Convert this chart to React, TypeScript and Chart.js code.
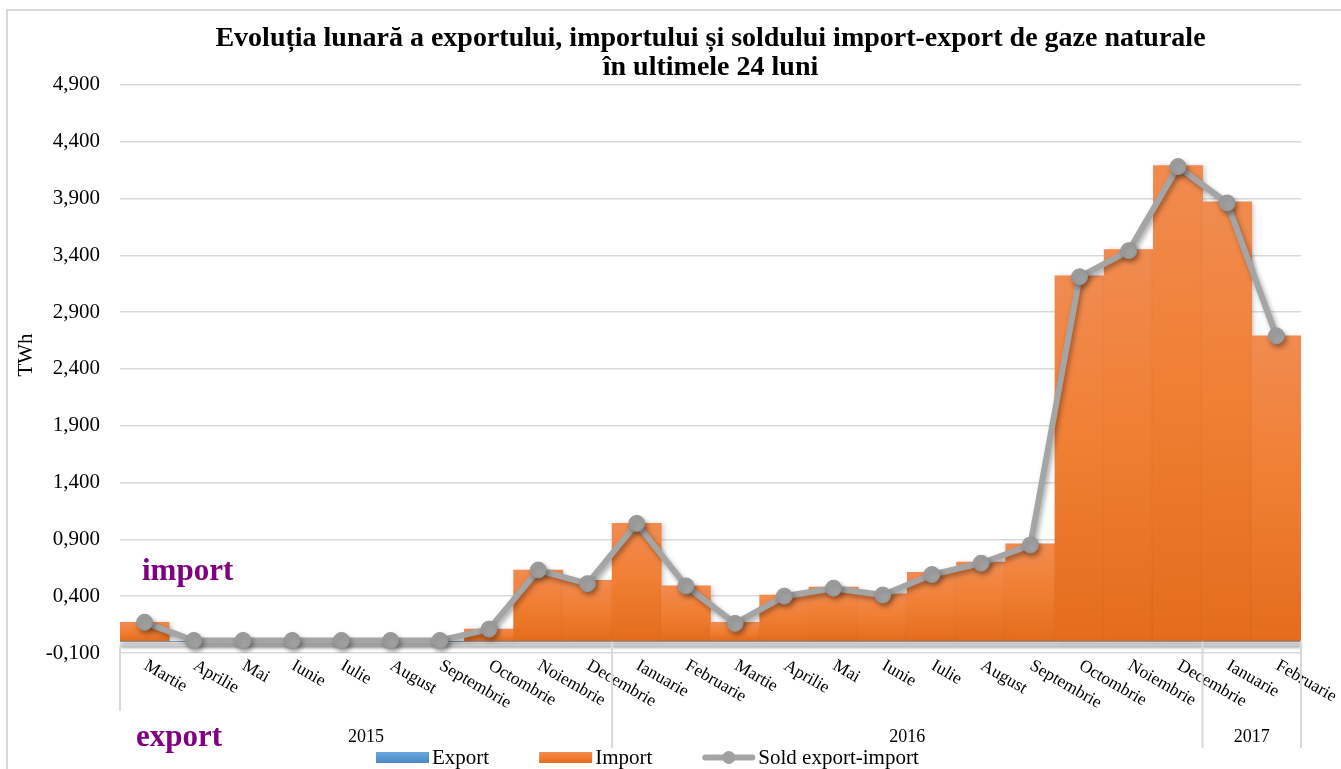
import React, { useEffect, useRef } from 'react';
import { Chart, registerables } from 'chart.js';

Chart.register(...registerables);

const TITLE_LINES = [
  'Evoluția lunară a exportului, importului și soldului import-export de gaze naturale',
  'în ultimele 24 luni',
];
const MONTHS = [
  'Martie', 'Aprilie', 'Mai', 'Iunie', 'Iulie', 'August', 'Septembrie', 'Octombrie', 'Noiembrie', 'Decembrie',
  'Ianuarie', 'Februarie', 'Martie', 'Aprilie', 'Mai', 'Iunie', 'Iulie', 'August', 'Septembrie', 'Octombrie',
  'Noiembrie', 'Decembrie', 'Ianuarie', 'Februarie',
];
const YEARS = ['2015', '2016', '2017'];
const YEAR_SPANS = [10, 12, 2];
const EXPORT_VALUES = [0, 0, 0, 0, 0, 0, 0, 0, 0, 0, 0, 0, 0, 0, 0, 0, 0, 0, 0, 0, 0, 0, 0, 0];
const IMPORT_VALUES = [
  0.17, 0, 0, 0, 0, 0, 0, 0.11, 0.63, 0.54, 1.04, 0.49, 0.17, 0.41, 0.48, 0.42, 0.61, 0.7, 0.86, 3.22, 3.45, 4.19,
  3.87, 2.69,
];
const SOLD_VALUES = [
  0.17, 0.01, 0.01, 0.01, 0.01, 0.01, 0.01, 0.11, 0.63, 0.51, 1.04, 0.49, 0.16, 0.4, 0.47, 0.41, 0.59, 0.69, 0.85,
  3.21, 3.44, 4.18, 3.86, 2.69,
];
const Y_TICKS = [-0.1, 0.4, 0.9, 1.4, 1.9, 2.4, 2.9, 3.4, 3.9, 4.4, 4.9];
const Y_TITLE = 'TWh';
const SERIES_NAMES = ['Export', 'Import', 'Sold export-import'];
const SIDE_LABELS = ['import', 'export'];

const SERIF = '"Liberation Serif", "Times New Roman", serif';

function orangeGradient(ctx: CanvasRenderingContext2D, top: number, bottom: number) {
  const g = ctx.createLinearGradient(0, top, 0, bottom);
  g.addColorStop(0, '#F08B50');
  g.addColorStop(0.45, '#F17F34');
  g.addColorStop(1, '#E46C1C');
  return g;
}

const shadowPlugin = {
  id: 'shadows',
  beforeDatasetDraw(chart: any, args: any) {
    const ctx = chart.ctx;
    ctx.save();
    if (args.meta.type === 'line') {
      ctx.shadowColor = 'rgba(0,0,0,0.35)';
      ctx.shadowBlur = 5;
      ctx.shadowOffsetX = 2;
      ctx.shadowOffsetY = 3;
    } else {
      ctx.shadowColor = 'rgba(0,0,0,0.22)';
      ctx.shadowBlur = 5;
      ctx.shadowOffsetX = 2;
      ctx.shadowOffsetY = 1;
    }
  },
  afterDatasetDraw(chart: any) {
    chart.ctx.restore();
  },
};

const decorPlugin = {
  id: 'decor',
  beforeDatasetsDraw(chart: any) {
    const { ctx, chartArea, scales } = chart;
    const y0 = scales.y.getPixelForValue(0);
    ctx.save();
    ctx.shadowColor = 'rgba(0,0,0,0.35)';
    ctx.shadowBlur = 3;
    ctx.shadowOffsetY = 2;
    ctx.strokeStyle = '#d9d9d9';
    ctx.lineWidth = 3;
    ctx.beginPath();
    ctx.moveTo(chartArea.left, y0 + 2.5);
    ctx.lineTo(chartArea.right, y0 + 2.5);
    ctx.stroke();
    ctx.restore();
  },
  afterDraw(chart: any) {
    const { ctx, scales } = chart;
    const x = scales.x;
    const y = scales.y;
    const y0 = y.getPixelForValue(0);
    ctx.save();

    // frame
    ctx.strokeStyle = '#d9d9d9';
    ctx.lineWidth = 2;
    ctx.strokeRect(7, 10, 1400, 900);

    // axis title
    ctx.fillStyle = '#000';
    ctx.font = `21px ${SERIF}`;
    ctx.textAlign = 'center';
    ctx.textBaseline = 'middle';
    ctx.save();
    ctx.translate(26, 355);
    ctx.rotate(-Math.PI / 2);
    ctx.fillText(Y_TITLE, 0, 0);
    ctx.restore();

    // month labels
    ctx.font = `17.5px ${SERIF}`;
    ctx.textAlign = 'left';
    ctx.textBaseline = 'top';
    MONTHS.forEach((m, i) => {
      const px = x.getPixelForValue(i);
      ctx.save();
      ctx.translate(px + 5, 657);
      ctx.rotate((30 * Math.PI) / 180);
      ctx.fillText(m, 0, 0);
      ctx.restore();
    });

    // year groups
    const half = (x.getPixelForValue(1) - x.getPixelForValue(0)) / 2;
    ctx.strokeStyle = '#d9d9d9';
    ctx.lineWidth = 2;
    ctx.font = `18px ${SERIF}`;
    ctx.textAlign = 'center';
    ctx.textBaseline = 'middle';
    let idx = 0;
    YEARS.forEach((yr, g) => {
      const start = idx;
      const end = idx + YEAR_SPANS[g] - 1;
      const left = x.getPixelForValue(start) - half;
      const right = x.getPixelForValue(end) + half;
      ctx.beginPath();
      if (g === 0) {
        ctx.moveTo(left, y0 + 6);
        ctx.lineTo(left, 711);
      } else {
        ctx.moveTo(left, y0);
        ctx.lineTo(left, 748);
      }
      ctx.stroke();
      if (g === YEARS.length - 1) {
        ctx.beginPath();
        ctx.moveTo(right, y0 - 1);
        ctx.lineTo(right, 748);
        ctx.stroke();
      }
      ctx.fillText(yr, (left + right) / 2, 737);
      idx += YEAR_SPANS[g];
    });

    // side labels
    ctx.fillStyle = '#800080';
    ctx.font = `bold 31px ${SERIF}`;
    ctx.textAlign = 'left';
    ctx.textBaseline = 'alphabetic';
    ctx.fillText(SIDE_LABELS[0], 142, 580);
    ctx.fillText(SIDE_LABELS[1], 136, 746);

    // legend
    ctx.font = `21px ${SERIF}`;
    ctx.textBaseline = 'middle';
    let lx = 376;
    const ly = 757.5;
    SERIES_NAMES.forEach((name, i) => {
      if (i === 0) {
        const g = ctx.createLinearGradient(0, ly - 5.5, 0, ly + 5.5);
        g.addColorStop(0, '#6BA7DE');
        g.addColorStop(1, '#4A88C6');
        ctx.fillStyle = g;
        ctx.fillRect(lx, ly - 5.5, 53, 11);
      } else if (i === 1) {
        ctx.fillStyle = orangeGradient(ctx, ly - 5.5, ly + 5.5);
        ctx.fillRect(lx, ly - 5.5, 53, 11);
      } else {
        ctx.strokeStyle = '#A5A5A5';
        ctx.lineWidth = 6;
        ctx.lineCap = 'round';
        ctx.beginPath();
        ctx.moveTo(lx + 3, ly);
        ctx.lineTo(lx + 50, ly);
        ctx.stroke();
        ctx.fillStyle = '#A0A0A0';
        ctx.beginPath();
        ctx.arc(lx + 26.5, ly, 6.5, 0, Math.PI * 2);
        ctx.fill();
      }
      ctx.fillStyle = '#000';
      ctx.fillText(name, lx + 56, ly + 1);
      lx += 56 + ctx.measureText(name).width + 50;
    });

    ctx.restore();
  },
};

export default function App() {
  const ref = useRef<HTMLCanvasElement>(null);

  useEffect(() => {
    const canvas = ref.current;
    if (!canvas) return;
    const chart = new Chart(canvas, {
      type: 'bar',
      data: {
        labels: MONTHS,
        datasets: [
          {
            type: 'bar',
            label: SERIES_NAMES[0],
            data: EXPORT_VALUES,
            backgroundColor: '#5B9BD5',
            borderWidth: 0,
            stack: 'bars',
            order: 1,
            categoryPercentage: 1,
            barPercentage: 1,
          },
          {
            type: 'bar',
            label: SERIES_NAMES[1],
            data: IMPORT_VALUES,
            backgroundColor: (c: any) => {
              const ch = c.chart;
              if (!ch.chartArea || c.type !== 'data') return '#ED7D31';
              const ys = ch.scales.y;
              const top = ys.getPixelForValue(c.raw);
              const bottom = ys.getPixelForValue(0);
              if (bottom - top < 1) return '#ED7D31';
              return orangeGradient(ch.ctx, top, bottom);
            },
            borderWidth: 0,
            stack: 'bars',
            order: 1,
            categoryPercentage: 1,
            barPercentage: 1,
          },
          {
            type: 'line',
            label: SERIES_NAMES[2],
            data: SOLD_VALUES,
            stack: 'line',
            order: 0,
            borderColor: '#A5A5A5',
            borderWidth: 6,
            tension: 0,
            pointRadius: 8,
            pointBackgroundColor: '#A0A0A0',
            pointBorderColor: '#959595',
            pointBorderWidth: 1,
          },
        ] as any,
      },
      options: {
        animation: false,
        responsive: false,
        layout: { padding: { left: 10, right: 40, top: 0, bottom: 0 } },
        scales: {
          x: {
            stacked: true,
            grid: { display: false },
            border: { display: false },
            ticks: { display: false },
            afterFit: (s: any) => {
              s.height = 116;
            },
          },
          y: {
            stacked: true,
            min: Y_TICKS[0],
            max: Y_TICKS[Y_TICKS.length - 1],
            afterBuildTicks: (s: any) => {
              s.ticks = Y_TICKS.map((v) => ({ value: v }));
            },
            ticks: {
              color: '#000',
              padding: 20,
              font: { family: SERIF, size: 21 },
              callback: (v: any) => Number(v).toFixed(3).replace('.', ','),
            },
            grid: { color: '#d9d9d9', lineWidth: 1.5, drawTicks: false },
            border: { display: false },
            afterFit: (s: any) => {
              s.width = 110;
            },
          },
        } as any,
        plugins: {
          legend: { display: false },
          tooltip: { enabled: false },
          title: {
            display: true,
            fullSize: false,
            text: TITLE_LINES,
            color: '#000',
            font: { family: SERIF, size: 28, weight: 'bold', lineHeight: 1.05 },
            padding: { top: 24, bottom: 2 },
          },
        },
      },
      plugins: [shadowPlugin, decorPlugin],
    } as any);
    return () => chart.destroy();
  }, []);

  return (
    <div style={{ position: 'fixed', left: 0, top: 0, width: 1341, height: 769, background: '#fff' }}>
      <canvas ref={ref} width={1341} height={769} style={{ display: 'block', width: 1341, height: 769 }} />
    </div>
  );
}
